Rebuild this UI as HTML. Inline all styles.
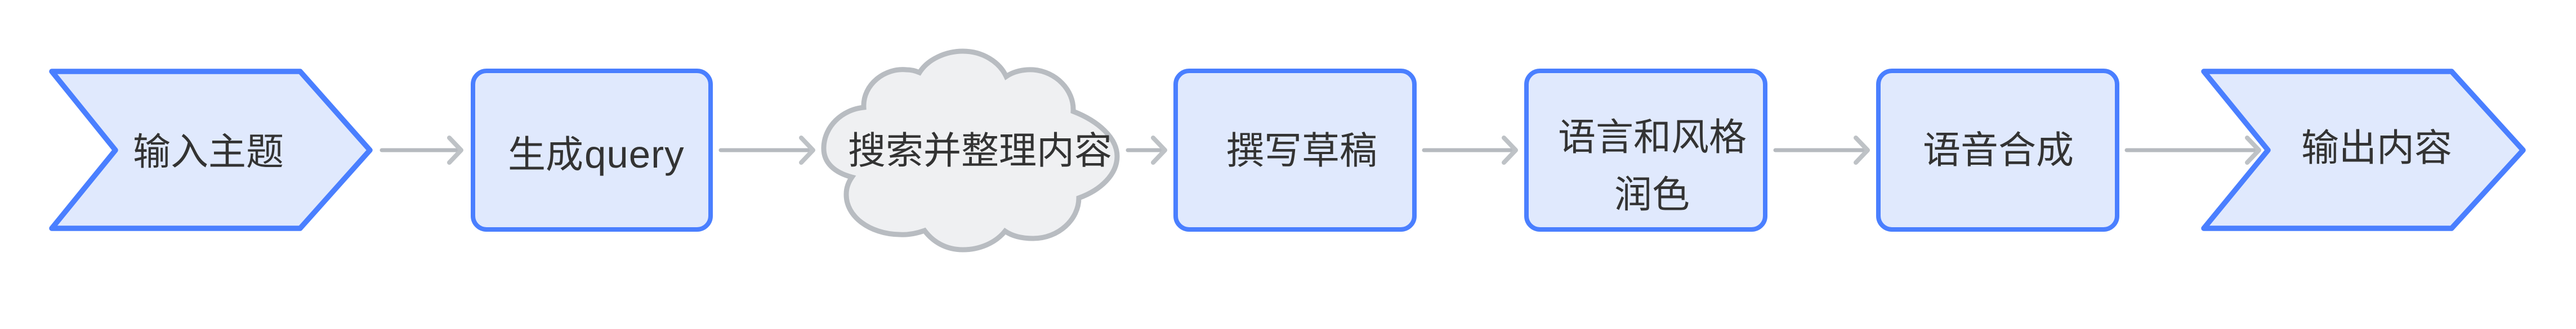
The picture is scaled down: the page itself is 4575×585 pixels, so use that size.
<!DOCTYPE html>
<html lang="zh">
<head>
<meta charset="utf-8">
<style>
html,body{margin:0;padding:0;background:#fff;width:4575px;height:585px;overflow:hidden}
svg{display:block}
text{font-family:"Liberation Sans","Noto Sans CJK SC",sans-serif;font-size:67px;fill:#333}
.s{fill:#e0e9fd;stroke:#4a7fff;stroke-linejoin:round}
.l{fill:none;stroke:#b6babf;stroke-width:7;stroke-linecap:round}
.h{fill:none;stroke:#bec2c6;stroke-width:8;stroke-linecap:round;stroke-linejoin:round}
</style>
</head>
<body>
<svg width="4575" height="585" viewBox="0 0 4575 585" xmlns="http://www.w3.org/2000/svg">
<rect width="4575" height="585" fill="#fff"/>

<!-- shapes -->
<polygon class="s" stroke-width="9.5" points="92,127 533,127 657,267 533,406 92,406 205,267"/>
<rect class="s" stroke-width="8" x="840" y="126" width="422" height="282" rx="24"/>
<path d="M1534 191C1532 150 1572 120 1610 124C1618 124 1626 126 1633 129C1648 105 1680 91 1710 91C1745 91 1775 110 1787 136C1800 127 1818 123 1835 124C1875 127 1908 160 1906 198C1950 215 1984 245 1984 278C1984 310 1955 338 1916 352C1916 390 1880 424 1835 424C1815 424 1798 420 1785 411C1768 432 1740 444 1710 444C1680 444 1657 430 1642 410C1628 415 1612 418 1597 417C1545 416 1502 385 1503 345C1503 335 1506 325 1513 315C1483 307 1462 290 1463 262C1464 225 1495 195 1534 191Z" fill="#eff0f2" stroke="#b8bcc1" stroke-width="9" stroke-linejoin="miter"/>
<rect class="s" stroke-width="8" x="2088" y="126" width="424" height="282" rx="24"/>
<rect class="s" stroke-width="8" x="2711" y="126" width="424" height="282" rx="24"/>
<rect class="s" stroke-width="8" x="3336" y="126" width="424" height="282" rx="24"/>
<polygon class="s" stroke-width="9.5" points="3914,127 4354,127 4481,267 4354,406 3914,406 4028,267"/>

<!-- connectors -->
<line class="l" x1="678" y1="267" x2="818" y2="267"/>
<polyline class="h" points="798,245 819,267 798,289"/>
<line class="l" x1="1280" y1="267" x2="1443" y2="267"/>
<polyline class="h" points="1423,245 1444,267 1423,289"/>
<line class="l" x1="2003" y1="267" x2="2068" y2="267"/>
<polyline class="h" points="2048,245 2069,267 2048,289"/>
<line class="l" x1="2529" y1="267" x2="2691" y2="267"/>
<polyline class="h" points="2671,245 2692,267 2671,289"/>
<line class="l" x1="3153" y1="267" x2="3316" y2="267"/>
<polyline class="h" points="3296,245 3317,267 3296,289"/>
<line class="l" x1="3777" y1="267" x2="4011" y2="267"/>
<polyline class="h" points="3991,245 4012,267 3991,289"/>

<!-- labels -->
<text x="236" y="293">输入主题</text>
<text x="902" y="298">生成<tspan font-size="69" dx="2" letter-spacing="1">query</tspan></text>
<text x="1506" y="291">搜索并整理内容</text>
<text x="2178" y="291">撰写草稿</text>
<text x="2767" y="267">语言和风格</text>
<text x="2867" y="369">润色</text>
<text x="3415" y="290">语音合成</text>
<text x="4087" y="286">输出内容</text>
</svg>
</body>
</html>
